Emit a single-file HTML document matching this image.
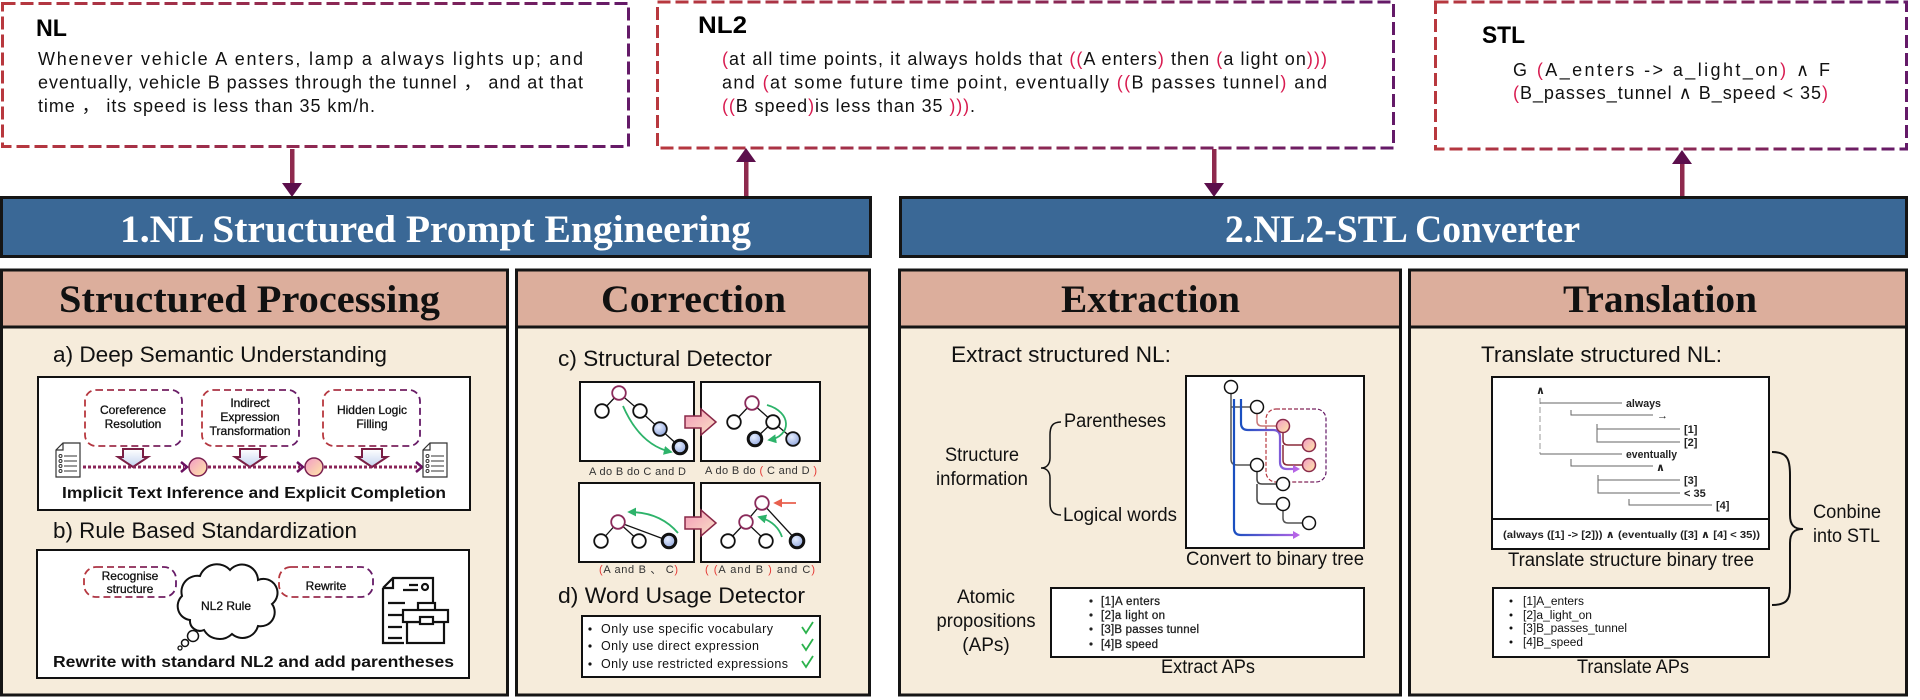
<!DOCTYPE html>
<html><head><meta charset="utf-8"><style>
html,body{margin:0;padding:0;background:#fff;}
svg{display:block;}
text{font-family:"Liberation Sans","DejaVu Sans","Noto Sans CJK SC",sans-serif;}
.sf{font-family:"Liberation Serif","DejaVu Serif",serif;font-weight:bold;}
.hw{font-family:"Liberation Sans","DejaVu Sans",sans-serif;font-weight:bold;}
</style></head><body>
<svg width="1920" height="700" viewBox="0 0 1920 700" xmlns="http://www.w3.org/2000/svg">
<defs>
<linearGradient id="dg" x1="0" y1="0" x2="1" y2="0"><stop offset="0" stop-color="#b8383e"/><stop offset="1" stop-color="#641a68"/></linearGradient>
<linearGradient id="arrowv" x1="0" y1="0" x2="0" y2="1"><stop offset="0" stop-color="#ffffff"/><stop offset="1" stop-color="#c4d4f0"/></linearGradient>
<linearGradient id="pk" x1="0" y1="0" x2="1" y2="1"><stop offset="0" stop-color="#f29ac6"/><stop offset="1" stop-color="#ffe9a6"/></linearGradient>
<linearGradient id="pa" x1="0" y1="0" x2="1" y2="1"><stop offset="0" stop-color="#f39ab8"/><stop offset="1" stop-color="#f9e2c6"/></linearGradient>
<radialGradient id="bl" cx="0.4" cy="0.35" r="0.7"><stop offset="0" stop-color="#e6eeff"/><stop offset="1" stop-color="#8ea4dc"/></radialGradient>
<linearGradient id="bp1" gradientUnits="userSpaceOnUse" x1="1234" y1="0" x2="1300" y2="0"><stop offset="0" stop-color="#1a4fc0"/><stop offset="1" stop-color="#b564e6"/></linearGradient>
<linearGradient id="bp2" gradientUnits="userSpaceOnUse" x1="1241" y1="0" x2="1300" y2="0"><stop offset="0" stop-color="#1a4fc0"/><stop offset="1" stop-color="#b564e6"/></linearGradient>
<marker id="gh" viewBox="0 0 10 10" refX="8" refY="5" markerWidth="5" markerHeight="5" orient="auto"><path d="M0,0 L10,5 L0,10 z" fill="#2db36a"/></marker>
<marker id="rh" viewBox="0 0 10 10" refX="8" refY="5" markerWidth="5" markerHeight="5" orient="auto"><path d="M0,0 L10,5 L0,10 z" fill="#e8604e"/></marker>
</defs>

<!-- ===== TOP BOXES ===== -->
<rect x="2.5" y="3.5" width="626" height="143" fill="#fff" stroke="url(#dg)" stroke-width="3" stroke-dasharray="13 5"/>
<rect x="657.5" y="2" width="736" height="146" fill="#fff" stroke="url(#dg)" stroke-width="3" stroke-dasharray="13 5"/>
<rect x="1435.5" y="2" width="471" height="147" fill="#fff" stroke="url(#dg)" stroke-width="3" stroke-dasharray="13 5"/>

<text class="hw" x="36" y="36" font-size="24" textLength="31" lengthAdjust="spacingAndGlyphs">NL</text>
<text class="hw" x="698" y="33" font-size="24" textLength="49" lengthAdjust="spacingAndGlyphs">NL2</text>
<text class="hw" x="1482" y="43" font-size="24" textLength="43" lengthAdjust="spacingAndGlyphs">STL</text>

<g font-size="18" fill="#111">
<text x="38" y="65" textLength="545" lengthAdjust="spacing">Whenever vehicle A enters, lamp a always lights up; and</text>
<text x="38" y="88.5" textLength="545" lengthAdjust="spacing">eventually, vehicle B passes through the tunnel ， and at that</text>
<text x="38" y="112" textLength="337" lengthAdjust="spacing">time ， its speed is less than 35 km/h.</text>

<text x="722" y="65" textLength="605" lengthAdjust="spacing"><tspan fill="#d81b50">(</tspan>at all time points, it always holds that <tspan fill="#d81b50">((</tspan>A enters<tspan fill="#d81b50">)</tspan> then <tspan fill="#d81b50">(</tspan>a light on<tspan fill="#d81b50">)))</tspan></text>
<text x="722" y="88.5" textLength="605" lengthAdjust="spacing">and <tspan fill="#d81b50">(</tspan>at some future time point, eventually <tspan fill="#d81b50">((</tspan>B passes tunnel<tspan fill="#d81b50">)</tspan> and</text>
<text x="722" y="112" textLength="253" lengthAdjust="spacing"><tspan fill="#d81b50">((</tspan>B speed<tspan fill="#d81b50">)</tspan>is less than 35 <tspan fill="#d81b50">)))</tspan>.</text>

<text x="1513" y="76" textLength="317" lengthAdjust="spacing">G <tspan fill="#d81b50">(</tspan>A_enters -&gt; a_light_on<tspan fill="#d81b50">)</tspan> ∧ F</text>
<text x="1513" y="99" textLength="315" lengthAdjust="spacing"><tspan fill="#d81b50">(</tspan>B_passes_tunnel ∧ B_speed &lt; 35<tspan fill="#d81b50">)</tspan></text>
</g>

<!-- connector arrows -->
<g>
<rect x="290" y="149" width="4.5" height="35" fill="#8e2a4e"/>
<polygon points="282,183 302,183 292,197" fill="#5c0f4c"/>
<rect x="744" y="161" width="4.5" height="36" fill="#8e2a4e"/>
<polygon points="736,162 756,162 746,148" fill="#5c0f4c"/>
<rect x="1212" y="149" width="4.5" height="35" fill="#8e2a4e"/>
<polygon points="1204,183 1224,183 1214,197" fill="#5c0f4c"/>
<rect x="1680" y="163" width="4.5" height="34" fill="#8e2a4e"/>
<polygon points="1672,164 1692,164 1682,150" fill="#5c0f4c"/>
</g>

<!-- ===== BANNERS ===== -->
<rect x="1.5" y="197.5" width="869" height="59" fill="#3a6896" stroke="#151515" stroke-width="3"/>
<rect x="900.5" y="197.5" width="1006" height="59" fill="#3a6896" stroke="#151515" stroke-width="3"/>
<text class="sf" x="120" y="242" font-size="39" fill="#fff" textLength="631" lengthAdjust="spacingAndGlyphs">1.NL Structured Prompt Engineering</text>
<text class="sf" x="1225" y="242" font-size="39" fill="#fff" textLength="355" lengthAdjust="spacingAndGlyphs">2.NL2-STL Converter</text>

<!-- ===== SECTIONS ===== -->
<g stroke="#151515" stroke-width="3">
<rect x="1.5" y="270" width="506" height="425" fill="#f6ecdb"/>
<rect x="1.5" y="270" width="506" height="57" fill="#dcae9c"/>
<rect x="516.5" y="270" width="353" height="425" fill="#f6ecdb"/>
<rect x="516.5" y="270" width="353" height="57" fill="#dcae9c"/>
<rect x="899.5" y="270" width="501" height="425" fill="#f6ecdb"/>
<rect x="899.5" y="270" width="501" height="57" fill="#dcae9c"/>
<rect x="1409.5" y="270" width="497" height="425" fill="#f6ecdb"/>
<rect x="1409.5" y="270" width="497" height="57" fill="#dcae9c"/>
</g>
<g class="sf" font-size="39" fill="#111">
<text class="sf" x="59" y="312" textLength="381" lengthAdjust="spacingAndGlyphs">Structured Processing</text>
<text class="sf" x="601" y="312" textLength="185" lengthAdjust="spacingAndGlyphs">Correction</text>
<text class="sf" x="1061" y="312" textLength="179" lengthAdjust="spacingAndGlyphs">Extraction</text>
<text class="sf" x="1563" y="312" textLength="194" lengthAdjust="spacingAndGlyphs">Translation</text>
</g>

<!-- ===== STRUCTURED PROCESSING ===== -->
<text x="53" y="362" font-size="22" fill="#111" textLength="334" lengthAdjust="spacingAndGlyphs">a) Deep Semantic Understanding</text>
<rect x="38" y="377" width="432" height="133" fill="#fff" stroke="#111" stroke-width="2"/>
<g fill="#fff" stroke="url(#dg)" stroke-width="1.8" stroke-dasharray="7 4">
<rect x="85" y="390" width="97" height="56" rx="11"/>
<rect x="202" y="390" width="97" height="56" rx="11"/>
<rect x="323" y="390" width="97" height="56" rx="11"/>
</g>
<g font-size="12" fill="#111" stroke="#111" stroke-width="0.3" text-anchor="middle">
<text x="133" y="414">Coreference</text><text x="133" y="428">Resolution</text>
<text x="250" y="407">Indirect</text><text x="250" y="421">Expression</text><text x="250" y="435" textLength="81" lengthAdjust="spacingAndGlyphs">Transformation</text>
<text x="372" y="414">Hidden Logic</text><text x="372" y="428">Filling</text>
</g>
<!-- down block arrows -->
<g fill="url(#arrowv)" stroke="#7a1f45" stroke-width="2" stroke-linejoin="miter">
<path d="M123,449 h20 v8 h5 l-15,10 l-15,-10 h5 z"/>
<path d="M240,449 h20 v8 h5 l-15,10 l-15,-10 h5 z"/>
<path d="M362,449 h20 v8 h5 l-15,10 l-15,-10 h5 z"/>
<path d="M118,599 h20 v8 h5 l-15,10 l-15,-10 h5 z"/>
<path d="M318,599 h20 v8 h5 l-15,10 l-15,-10 h5 z"/>
</g>
<!-- dotted arrows -->
<g stroke="#8a2458" stroke-width="3" stroke-dasharray="3 2" fill="none">
<line x1="83" y1="467" x2="184" y2="467"/>
<line x1="208" y1="467" x2="300" y2="467"/>
<line x1="324" y1="467" x2="419" y2="467"/>
<line x1="83" y1="623" x2="173" y2="623"/>
<line x1="282" y1="623" x2="371" y2="623"/>
</g>
<g stroke="#6a1060" stroke-width="2.5" fill="none">
<path d="M181,462 L187,467 L181,472"/>
<path d="M297,462 L303,467 L297,472"/>
<path d="M416,462 L422,467 L416,472"/>
<path d="M170,618 L176,623 L170,628"/>
<path d="M368,618 L374,623 L368,628"/>
</g>
<circle cx="198" cy="467" r="9" fill="url(#pk)" stroke="#7a2050" stroke-width="1.5"/>
<circle cx="314" cy="467" r="9" fill="url(#pk)" stroke="#7a2050" stroke-width="1.5"/>
<!-- doc icons -->
<g stroke="#333" stroke-width="1.2" fill="#fff">
<path d="M63,443 L80,443 L80,477 L56,477 L56,450 Z"/><path d="M56,450 L63,450 L63,443" fill="none"/>
<path d="M430,443 L447,443 L447,477 L423,477 L423,450 Z"/><path d="M423,450 L430,450 L430,443" fill="none"/>
<path d="M63,598 L80,598 L80,633 L56,633 L56,605 Z"/><path d="M56,605 L63,605 L63,598" fill="none"/>
</g>
<g stroke="#333" stroke-width="1" fill="none">
<circle cx="60.5" cy="456" r="1.5"/><circle cx="60.5" cy="461" r="1.5"/><circle cx="60.5" cy="466" r="1.5"/><circle cx="60.5" cy="471" r="1.5"/>
<path d="M64,456 H77 M64,461 H77 M64,466 H77 M64,471 H77"/>
<circle cx="427.5" cy="456" r="1.5"/><circle cx="427.5" cy="461" r="1.5"/><circle cx="427.5" cy="466" r="1.5"/><circle cx="427.5" cy="471" r="1.5"/>
<path d="M431,456 H444 M431,461 H444 M431,466 H444 M431,471 H444"/>
<circle cx="60.5" cy="611" r="1.5"/><circle cx="60.5" cy="616" r="1.5"/><circle cx="60.5" cy="621" r="1.5"/><circle cx="60.5" cy="626" r="1.5"/>
<path d="M64,611 H77 M64,616 H77 M64,621 H77 M64,626 H77"/>
</g>
<text x="62" y="498" font-size="16" font-weight="bold" fill="#111" textLength="384" lengthAdjust="spacingAndGlyphs">Implicit Text Inference and Explicit Completion</text>

<text x="53" y="538" font-size="22" fill="#111" textLength="304" lengthAdjust="spacingAndGlyphs">b) Rule Based Standardization</text>
<rect x="37" y="550" width="432" height="128" fill="#fff" stroke="#111" stroke-width="2"/>
<g fill="#fff" stroke="url(#dg)" stroke-width="1.8" stroke-dasharray="7 4">
<rect x="84" y="567" width="92" height="30" rx="12"/>
<rect x="279" y="567" width="94" height="30" rx="12"/>
</g>
<g font-size="12" fill="#111" stroke="#111" stroke-width="0.3" text-anchor="middle">
<text x="130" y="580">Recognise</text><text x="130" y="593">structure</text>
<text x="326" y="590">Rewrite</text>
</g>
<!-- cloud -->
<path d="M190,620 a14,14 0 0 1 -8,-24 a16,16 0 0 1 18,-20 a18,18 0 0 1 30,-6 a16,16 0 0 1 28,10 a14,14 0 0 1 14,24 a14,14 0 0 1 -14,22 a16,16 0 0 1 -26,8 a18,18 0 0 1 -28,-4 a10,10 0 0 1 -14,-10 z" fill="#fff" stroke="#111" stroke-width="2"/>
<circle cx="193" cy="636" r="5.5" fill="#fff" stroke="#111" stroke-width="1.5"/>
<circle cx="185" cy="643" r="3.5" fill="#fff" stroke="#111" stroke-width="1.5"/>
<circle cx="180" cy="648" r="2" fill="#fff" stroke="#111" stroke-width="1.3"/>
<text x="226" y="610" font-size="12" fill="#111" stroke="#111" stroke-width="0.3" text-anchor="middle">NL2 Rule</text>
<!-- briefcase icon -->
<g stroke="#111" stroke-width="2.2" fill="none">
<path d="M383,588 L393,578 L433,578 L433,604"/>
<path d="M383,588 L383,643 L404,643"/>
<path d="M383,588 L393,588 L393,578"/>
<path d="M409,585 L418,585 M403,590 L418,590"/>
<circle cx="425" cy="587" r="3"/>
<path d="M388,603 L405,603 M388,615 L402,615 M388,627 L402,627 M388,638 L402,638"/>
<rect x="418" y="603" width="17" height="8" fill="#fff"/>
<rect x="407" y="622" width="37" height="21" fill="#fff"/>
<rect x="403" y="610" width="45" height="12" fill="#fff"/>
<rect x="420" y="617" width="13" height="7" fill="#fff"/>
</g>
<text x="53" y="667" font-size="16" font-weight="bold" fill="#111" textLength="401" lengthAdjust="spacingAndGlyphs">Rewrite with standard NL2 and add parentheses</text>

<!-- ===== CORRECTION ===== -->
<text x="558" y="366" font-size="22" fill="#111" textLength="214" lengthAdjust="spacingAndGlyphs">c) Structural Detector</text>
<g fill="#fff" stroke="#111" stroke-width="2">
<rect x="580" y="382" width="114" height="79"/>
<rect x="701" y="382" width="119" height="79"/>
<rect x="579" y="483" width="115" height="79"/>
<rect x="701" y="483" width="119" height="79"/>
</g>
<g fill="url(#pa)" stroke="#8a2848" stroke-width="1.5">
<path d="M685,416 L701,416 L701,409 L716,422 L701,435 L701,428 L685,428 Z"/>
<path d="M685,517 L701,517 L701,510 L716,523 L701,536 L701,529 L685,529 Z"/>
</g>
<!-- tree edges -->
<g stroke="#111" stroke-width="1.3">
<line x1="619" y1="393" x2="602" y2="411"/><line x1="619" y1="393" x2="640" y2="411"/><line x1="640" y1="411" x2="660" y2="429"/><line x1="660" y1="429" x2="680" y2="447"/>
<line x1="752" y1="403" x2="734" y2="422"/><line x1="752" y1="403" x2="773" y2="422"/><line x1="773" y1="422" x2="755" y2="439"/><line x1="773" y1="422" x2="793" y2="439"/>
<line x1="618" y1="522" x2="601" y2="541"/><line x1="618" y1="522" x2="639" y2="541"/><line x1="618" y1="522" x2="669" y2="541"/>
<line x1="762" y1="503" x2="746" y2="522"/><line x1="762" y1="503" x2="797" y2="541"/><line x1="746" y1="522" x2="728" y2="541"/><line x1="746" y1="522" x2="766" y2="541"/>
</g>
<g stroke-width="1.8">
<circle cx="619" cy="393" r="6.8" fill="#fff" stroke="#8a2a5a"/>
<circle cx="602" cy="411" r="6.8" fill="#fff" stroke="#111"/>
<circle cx="640" cy="411" r="6.8" fill="#fff" stroke="#111"/>
<circle cx="660" cy="429" r="6.8" fill="url(#bl)" stroke="#111"/>
<circle cx="680" cy="447" r="6.8" fill="url(#bl)" stroke="#111" stroke-width="3"/>
<circle cx="752" cy="403" r="6.8" fill="#fff" stroke="#8a2a5a"/>
<circle cx="734" cy="422" r="6.8" fill="#fff" stroke="#111"/>
<circle cx="773" cy="422" r="6.8" fill="#fff" stroke="#111"/>
<circle cx="755" cy="439" r="6.8" fill="url(#bl)" stroke="#111" stroke-width="3"/>
<circle cx="793" cy="439" r="6.8" fill="url(#bl)" stroke="#111"/>
<circle cx="618" cy="522" r="6.8" fill="#fff" stroke="#8a2a5a"/>
<circle cx="601" cy="541" r="6.8" fill="#fff" stroke="#111"/>
<circle cx="639" cy="541" r="6.8" fill="#fff" stroke="#111"/>
<circle cx="669" cy="541" r="6.8" fill="url(#bl)" stroke="#111" stroke-width="3"/>
<circle cx="762" cy="503" r="6.8" fill="#fff" stroke="#8a2a5a"/>
<circle cx="746" cy="522" r="6.8" fill="#fff" stroke="#8a2a5a"/>
<circle cx="728" cy="541" r="6.8" fill="#fff" stroke="#111"/>
<circle cx="766" cy="541" r="6.8" fill="#fff" stroke="#111"/>
<circle cx="797" cy="541" r="6.8" fill="url(#bl)" stroke="#111" stroke-width="3"/>
</g>
<g fill="none" stroke="#2db36a" stroke-width="1.8" marker-end="url(#gh)">
<path d="M623,406 Q640,445 671,452"/>
<path d="M767,405 C792,412 792,436 769,440"/>
<path d="M678,533 Q660,512 629,512"/>
<path d="M782,537 Q777,522 759,517"/>
</g>
<path d="M796,503 L775,503" stroke="#e8604e" stroke-width="1.8" fill="none" marker-end="url(#rh)"/>
<g font-size="11" fill="#333">
<text x="589" y="475" textLength="97" lengthAdjust="spacing">A do B do C and D</text>
<text x="705" y="474" textLength="112" lengthAdjust="spacing">A do B do <tspan fill="#e53935">(</tspan> C and D <tspan fill="#e53935">)</tspan></text>
<text x="599" y="573" textLength="79" lengthAdjust="spacing"><tspan fill="#e53935">(</tspan>A and B 、 C<tspan fill="#e53935">)</tspan></text>
<text x="705" y="573" textLength="110" lengthAdjust="spacing"><tspan fill="#e53935">( (</tspan>A and B <tspan fill="#e53935">)</tspan> and C<tspan fill="#e53935">)</tspan></text>
</g>
<text x="558" y="603" font-size="22" fill="#111" textLength="247" lengthAdjust="spacingAndGlyphs">d) Word Usage Detector</text>
<rect x="582" y="616" width="238" height="61" fill="#fff" stroke="#111" stroke-width="2"/>
<g font-size="12.5" fill="#111">
<circle cx="590" cy="629" r="1.6"/><circle cx="590" cy="646" r="1.6"/><circle cx="590" cy="664" r="1.6"/>
<text x="601" y="633" textLength="172" lengthAdjust="spacing">Only use specific vocabulary</text>
<text x="601" y="650" textLength="158" lengthAdjust="spacing">Only use direct expression</text>
<text x="601" y="668" textLength="187" lengthAdjust="spacing">Only use restricted expressions</text>
</g>
<g stroke="#2bb24c" stroke-width="1.8" fill="none">
<path d="M802,627 l4,6 l7,-11"/><path d="M802,644 l4,6 l7,-11"/><path d="M802,661 l4,6 l7,-11"/>
</g>

<!-- ===== EXTRACTION ===== -->
<text x="951" y="362" font-size="22" fill="#111" textLength="220" lengthAdjust="spacingAndGlyphs">Extract structured NL:</text>
<g font-size="19" fill="#111">
<text x="945" y="461" textLength="74" lengthAdjust="spacingAndGlyphs">Structure</text>
<text x="936" y="485" textLength="92" lengthAdjust="spacingAndGlyphs">information</text>
<text x="1064" y="427" textLength="102" lengthAdjust="spacingAndGlyphs">Parentheses</text>
<text x="1063" y="521" textLength="114" lengthAdjust="spacingAndGlyphs">Logical words</text>
<text x="1186" y="565" textLength="178" lengthAdjust="spacingAndGlyphs">Convert to binary tree</text>
<text x="986" y="603" text-anchor="middle">Atomic</text>
<text x="986" y="627" text-anchor="middle" textLength="99" lengthAdjust="spacingAndGlyphs">propositions</text>
<text x="986" y="651" text-anchor="middle">(APs)</text>
<text x="1161" y="673" textLength="94" lengthAdjust="spacingAndGlyphs">Extract APs</text>
</g>
<path d="M1061,422 C1052,422 1050,427 1050,435 L1050,458 C1050,465 1046,468 1041,468 C1046,468 1050,471 1050,478 L1050,503 C1050,511 1053,515 1061,515" fill="none" stroke="#111" stroke-width="1.5"/>
<rect x="1186" y="376" width="178" height="172" fill="#fff" stroke="#111" stroke-width="2"/>
<rect x="1266" y="409" width="60" height="73" rx="10" fill="none" stroke="url(#dg)" stroke-width="1.2" stroke-dasharray="4 2"/>
<g fill="none" stroke-width="1.5">
<path d="M1231,393 L1231,459 Q1231,465 1237,465 L1251,465" stroke="#555"/>
<path d="M1231,407 L1251,407" stroke="#555"/>
<path d="M1257,413 L1257,421 Q1257,426 1262,426 L1277,426" stroke="#c87878"/>
<path d="M1283,432 L1283,440 Q1283,445 1288,445 L1303,445 M1283,445 L1283,460 Q1283,465 1288,465 L1303,465" stroke="#8a2a3a"/>
<path d="M1257,471 L1257,479 Q1257,484 1262,484 L1277,484 M1257,484 L1257,499 Q1257,504 1262,504 L1277,504" stroke="#444"/>
<path d="M1283,510 L1283,518 Q1283,523 1288,523 L1303,523" stroke="#555"/>
</g>
<path d="M1234,399 L1234,528 Q1234,535 1241,535 L1294,535" fill="none" stroke="url(#bp1)" stroke-width="2.2"/>
<polygon points="1293,531 1300,535 1293,539" fill="#b564e6"/>
<path d="M1241,399 L1241,423 Q1241,430 1248,430 L1273,430 Q1280,430 1280,437 L1280,462 Q1280,469 1287,469 L1294,469" fill="none" stroke="url(#bp2)" stroke-width="2.2"/>
<polygon points="1293,465 1300,469 1293,473" fill="#b564e6"/>
<g stroke-width="1.5">
<circle cx="1231" cy="387" r="6.5" fill="#fff" stroke="#111"/>
<circle cx="1257" cy="407" r="6.5" fill="#fff" stroke="#111"/>
<circle cx="1257" cy="465" r="6.5" fill="#fff" stroke="#111"/>
<circle cx="1283" cy="484" r="6.5" fill="#fff" stroke="#111"/>
<circle cx="1283" cy="504" r="6.5" fill="#fff" stroke="#111"/>
<circle cx="1309" cy="523" r="6.5" fill="#fff" stroke="#111"/>
<circle cx="1283" cy="426" r="6.5" fill="url(#pk)" stroke="#8a2a4a"/>
<circle cx="1309" cy="445" r="6.5" fill="url(#pk)" stroke="#8a2a4a"/>
<circle cx="1309" cy="465" r="6.5" fill="url(#pk)" stroke="#8a2a4a"/>
</g>
<rect x="1051" y="588" width="313" height="69" fill="#fff" stroke="#111" stroke-width="2"/>
<g font-size="11.5" fill="#222" stroke="#222" stroke-width="0.3">
<circle cx="1091" cy="601" r="1.5"/><circle cx="1091" cy="615" r="1.5"/><circle cx="1091" cy="629" r="1.5"/><circle cx="1091" cy="644" r="1.5"/>
<text x="1101" y="605" textLength="59" lengthAdjust="spacing">[1]A enters</text>
<text x="1101" y="619" textLength="64" lengthAdjust="spacing">[2]a light on</text>
<text x="1101" y="633" textLength="98" lengthAdjust="spacing">[3]B passes tunnel</text>
<text x="1101" y="648" textLength="57" lengthAdjust="spacing">[4]B speed</text>
</g>

<!-- ===== TRANSLATION ===== -->
<text x="1481" y="362" font-size="22" fill="#111" textLength="241" lengthAdjust="spacingAndGlyphs">Translate structured NL:</text>
<rect x="1492" y="377" width="277" height="142" fill="#fff" stroke="#111" stroke-width="2"/>
<rect x="1492" y="519" width="277" height="30" fill="#fff" stroke="#111" stroke-width="2"/>
<g stroke="#666" stroke-width="1" fill="none">
<path d="M1540,398 L1540,454" stroke-dasharray="6 3" stroke="#999"/>
<path d="M1540,403 L1622,403"/>
<path d="M1571,410 L1571,415 L1653,415"/>
<path d="M1597,424 L1597,442 L1680,442 M1597,429 L1680,429"/>
<path d="M1540,454 L1622,454"/>
<path d="M1571,459 L1571,466 L1653,466"/>
<path d="M1598,475 L1598,493 L1680,493 M1598,480 L1680,480"/>
<path d="M1629,499 L1629,505 L1712,505"/>
</g>
<g font-size="11" font-weight="bold" fill="#222">
<text x="1536" y="394">∧</text>
<text x="1626" y="407" textLength="35" lengthAdjust="spacingAndGlyphs">always</text>
<text x="1657" y="419">→</text>
<text x="1684" y="433">[1]</text>
<text x="1684" y="446">[2]</text>
<text x="1626" y="458" textLength="51" lengthAdjust="spacingAndGlyphs">eventually</text>
<text x="1656" y="471">∧</text>
<text x="1684" y="484">[3]</text>
<text x="1684" y="497">&lt; 35</text>
<text x="1716" y="509">[4]</text>
<text x="1503" y="538" font-size="10.5" textLength="257" lengthAdjust="spacingAndGlyphs">(always ([1] -&gt; [2])) ∧ (eventually ([3] ∧ [4] &lt; 35))</text>
</g>
<g font-size="19" fill="#111">
<text x="1508" y="566" textLength="246" lengthAdjust="spacingAndGlyphs">Translate structure binary tree</text>
<text x="1577" y="673" textLength="112" lengthAdjust="spacingAndGlyphs">Translate APs</text>
<text x="1813" y="518" textLength="68" lengthAdjust="spacingAndGlyphs">Conbine</text>
<text x="1813" y="542" textLength="67" lengthAdjust="spacingAndGlyphs">into STL</text>
</g>
<rect x="1493" y="588" width="276" height="69" fill="#fff" stroke="#111" stroke-width="2"/>
<g font-size="11.5" fill="#111">
<circle cx="1511" cy="601" r="1.5"/><circle cx="1511" cy="615" r="1.5"/><circle cx="1511" cy="628" r="1.5"/><circle cx="1511" cy="642" r="1.5"/>
<text x="1523" y="605" textLength="61" lengthAdjust="spacingAndGlyphs">[1]A_enters</text>
<text x="1523" y="619" textLength="69" lengthAdjust="spacingAndGlyphs">[2]a_light_on</text>
<text x="1523" y="632" textLength="104" lengthAdjust="spacingAndGlyphs">[3]B_passes_tunnel</text>
<text x="1523" y="646" textLength="60" lengthAdjust="spacingAndGlyphs">[4]B_speed</text>
</g>
<path d="M1772,452 C1788,452 1790,460 1790,475 L1790,515 C1790,525 1794,529 1803,529 C1794,529 1790,533 1790,543 L1790,588 C1790,600 1786,605 1772,605" fill="none" stroke="#111" stroke-width="2"/>
</svg>
</body></html>
